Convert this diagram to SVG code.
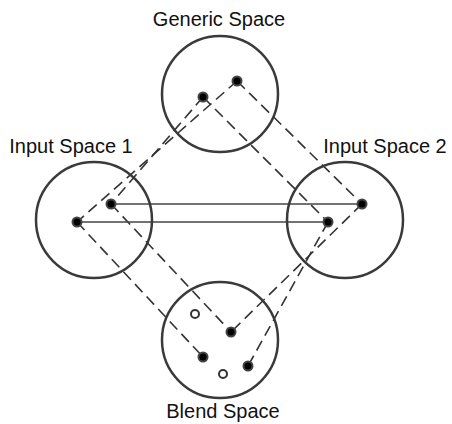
<svg xmlns="http://www.w3.org/2000/svg" width="452" height="424" viewBox="0 0 452 424">
<style>
.space{fill:none;stroke:#3a3a3a;stroke-width:2.5}
.dash{stroke:#333;stroke-width:1.6;stroke-dasharray:11,6;fill:none}
.solid{stroke:#444;stroke-width:1.5;fill:none}
.dot{fill:#000;stroke:#444;stroke-width:2}
.open{fill:#fff;stroke:#333;stroke-width:2}
.lbl{font-family:"Liberation Sans",Arial,sans-serif;font-size:20px;fill:#111;text-anchor:middle}
</style>
<rect width="452" height="424" fill="#fff"/>
<g id="connectors">
<line class="dash" x1="203" y1="97" x2="111" y2="204"/>
<line class="dash" x1="237" y1="81" x2="77" y2="222"/>
<line class="dash" x1="203" y1="97" x2="328" y2="222"/>
<line class="dash" x1="237" y1="81" x2="362" y2="204"/>
<line class="dash" x1="77" y1="222" x2="203" y2="357"/>
<line class="dash" x1="111" y1="204" x2="231" y2="332"/>
<line class="dash" x1="362" y1="204" x2="231" y2="332"/>
<line class="dash" x1="328" y1="222" x2="248" y2="366"/>
<line class="solid" x1="111" y1="204" x2="362" y2="204"/>
<line class="solid" x1="77" y1="222" x2="328" y2="222"/>
</g>
<g id="generic">
<circle class="space" cx="220" cy="94" r="58"/>
<circle class="dot" cx="203" cy="97" r="4.5"/>
<circle class="dot" cx="237" cy="81" r="4.5"/>
<text class="lbl" x="219" y="26">Generic Space</text>
</g>
<g id="input1">
<circle class="space" cx="94" cy="220" r="58"/>
<circle class="dot" cx="77" cy="222" r="4.5"/>
<circle class="dot" cx="111" cy="204" r="4.5"/>
<text class="lbl" x="71" y="153">Input Space 1</text>
</g>
<g id="input2">
<circle class="space" cx="345" cy="220" r="58"/>
<circle class="dot" cx="362" cy="204" r="4.5"/>
<circle class="dot" cx="328" cy="222" r="4.5"/>
<text class="lbl" x="385" y="153">Input Space 2</text>
</g>
<g id="blend">
<circle class="space" cx="220" cy="340" r="58"/>
<circle class="open" cx="195" cy="314" r="4"/>
<circle class="dot" cx="231" cy="332" r="4.5"/>
<circle class="dot" cx="203" cy="357" r="4.5"/>
<circle class="open" cx="223" cy="374" r="4"/>
<circle class="dot" cx="248" cy="366" r="4.5"/>
<text class="lbl" x="223" y="418">Blend Space</text>
</g>
</svg>
